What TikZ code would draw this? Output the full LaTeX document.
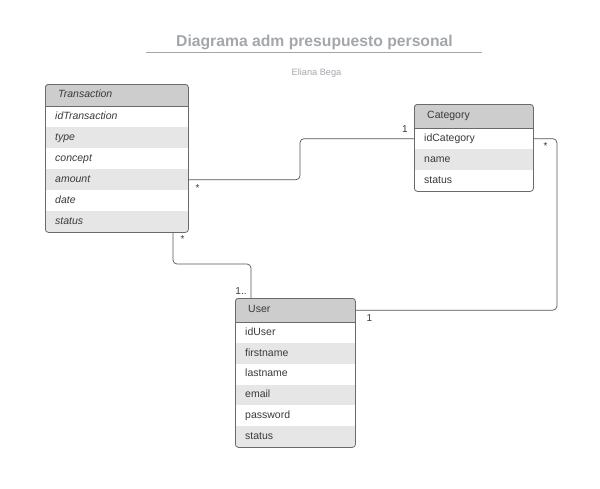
\documentclass[tikz,border=0pt]{standalone}
\usepackage{fontspec}
\setmainfont{Liberation Sans}
\usetikzlibrary{calc}
\definecolor{hdrgray}{HTML}{CDCDCD}
\definecolor{rowgray}{HTML}{E6E6E6}
\definecolor{bordergray}{HTML}{6A6A6A}
\definecolor{txtgray}{HTML}{3A3A3A}
\definecolor{titlegray}{HTML}{A3A7AC}
\definecolor{linegray}{HTML}{555555}
\begin{document}
\begin{tikzpicture}[x=1pt,y=-1pt,
  field/.style={anchor=north west, inner xsep=10pt, inner ysep=0pt, text width=#1,
    minimum height=21pt, align=left, text height=7.8pt, text depth=2.3pt,
    font=\fontsize{10.5}{12}\selectfont, text=txtgray},
  shaded/.style={fill=rowgray},
  header/.style={anchor=north west, inner xsep=13pt, inner ysep=0pt, text width=#1,
    align=left, text height=7.8pt, text depth=2.3pt, fill=hdrgray,
    font=\fontsize{10.5}{12}\selectfont, text=txtgray},
  classbox/.style={anchor=north west, draw=bordergray, line width=0.8pt,
    rounded corners=3pt, inner sep=0pt},
  conn/.style={draw=linegray, line width=0.7pt, rounded corners=4pt},
  mult/.style={font=\fontsize{10}{12}\selectfont, text=txtgray, inner sep=0pt,
    text height=7pt, text depth=0pt}
]
\useasboundingbox[fill=white] (0,0) rectangle (600,488);

% Title
\node[anchor=base, font=\bfseries\fontsize{15.7}{18}\selectfont, text=titlegray] (title) at (314.5,46.5) {Diagrama adm presupuesto personal};
\coordinate (ulL) at (146,52);
\coordinate (ulR) at (482,52);
\draw[titlegray, line width=0.9pt] (ulL) -- (ulR);
\node[anchor=base, font=\fontsize{9.2}{11}\selectfont, text=titlegray] (author) at (316.5,75) {Eliana Bega};

% ---------- Transaction ----------
\begin{scope}
\clip[rounded corners=3pt] (45,84) rectangle (188,232);
\node[header=117pt, minimum height=22pt] (Th) at (45,84) {\itshape Transaction};
\node[field=123pt] (T1) at (45,106) {\itshape idTransaction};
\node[field=123pt, shaded] (T2) at (45,127) {\itshape type};
\node[field=123pt] (T3) at (45,148) {\itshape concept};
\node[field=123pt, shaded] (T4) at (45,169) {\itshape amount};
\node[field=123pt] (T5) at (45,190) {\itshape date};
\node[field=123pt, shaded] (T6) at (45,211) {\itshape status};
\end{scope}
\draw[bordergray, line width=0.8pt] (Th.south west) -- (Th.south east);
\node[classbox, minimum width=143pt, minimum height=148pt] (T) at (45,84) {};

% ---------- Category ----------
\begin{scope}
\clip[rounded corners=3pt] (414,104) rectangle (533,191);
\node[header=93pt, minimum height=24pt] (Ch) at (414,104) {Category};
\node[field=99pt] (C1) at (414,128) {idCategory};
\node[field=99pt, shaded] (C2) at (414,149) {name};
\node[field=99pt] (C3) at (414,170) {status};
\end{scope}
\draw[bordergray, line width=0.8pt] (Ch.south west) -- (Ch.south east);
\node[classbox, minimum width=119pt, minimum height=87pt] (C) at (414,104) {};

% ---------- User ----------
\begin{scope}
\clip[rounded corners=3pt] (235,298) rectangle (355,447);
\node[header=94pt, minimum height=24pt] (Uh) at (235,298) {User};
\node[field=100pt, minimum height=20.8pt] (U1) at (235,322) {idUser};
\node[field=100pt, minimum height=20.8pt, shaded] (U2) at (235,342.8) {firstname};
\node[field=100pt, minimum height=20.8pt] (U3) at (235,363.6) {lastname};
\node[field=100pt, minimum height=20.8pt, shaded] (U4) at (235,384.4) {email};
\node[field=100pt, minimum height=20.8pt] (U5) at (235,405.2) {password};
\node[field=100pt, minimum height=20.8pt, shaded] (U6) at (235,426) {status};
\end{scope}
\draw[bordergray, line width=0.8pt] (Uh.south west) -- (Uh.south east);
\node[classbox, minimum width=120pt, minimum height=149pt] (U) at (235,298) {};

% ---------- Connectors ----------
\draw[conn] (T4.east) -| ($(C1.west)+(-114,0)$) -- (C1.west);
\draw[conn] ($(T.south west)+(128,0)$) |- ($(U.north west)+(16,-34)$) -- ($(U.north west)+(16,0)$);
\draw[conn] (C1.east) -- ($(C1.east)+(23.5,0)$) |- (Uh.east);

% ---------- Multiplicities ----------
\node[mult] (m1) at (405,128.5) {1};
\node[mult] (m2) at (197.5,188) {*};
\node[mult] (m3) at (182.5,238.5) {*};
\node[mult] (m4) at (241,291) {1..};
\node[mult] (m5) at (545.5,146) {*};
\node[mult] (m6) at (369.5,317.5) {1};
\end{tikzpicture}
\end{document}
